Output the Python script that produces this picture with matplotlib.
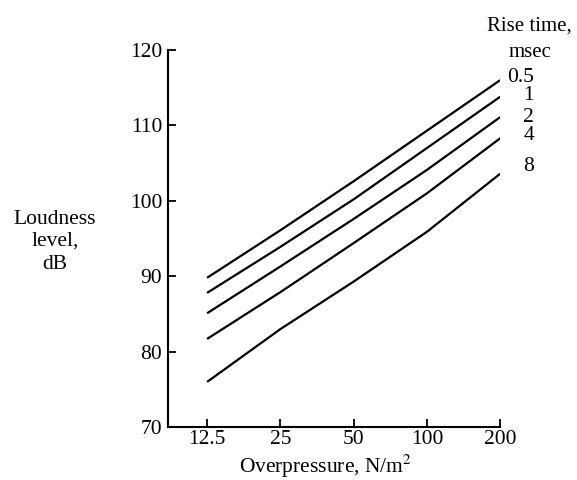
import matplotlib
matplotlib.use("Agg")
import matplotlib.pyplot as plt

plt.rcParams["font.family"] = ["Liberation Serif", "DejaVu Serif"]
plt.rcParams["mathtext.fontset"] = "stix"

pressure = [12.5, 25, 50, 100, 200]
rise_times = ["0.5", "1", "2", "4", "8"]
loudness = {
    "0.5": [89.8, 96.1, 102.6, 109.3, 116.0],
    "1": [87.8, 93.9, 100.2, 107.0, 113.8],
    "2": [85.1, 91.3, 97.6, 104.1, 111.1],
    "4": [81.7, 87.9, 94.4, 101.0, 108.3],
    "8": [76.0, 83.0, 89.3, 95.9, 103.6],
}
label_y = {"0.5": 116.3, "1": 113.9, "2": 111.0, "4": 108.6, "8": 104.6}

fig = plt.figure(figsize=(5.77, 4.8), dpi=100)
ax = fig.add_axes([0.291, 0.110, 0.576, 0.786])

for rt in rise_times:
    ax.plot(pressure, loudness[rt], color="black", lw=1.6, solid_capstyle="butt")
    if rt == "0.5":
        ax.text(pressure[-1] * 1.07, label_y[rt], rt, fontsize=15.5,
                ha="left", va="center")
    else:
        ax.text(pressure[-1] * 1.31, label_y[rt], rt, fontsize=15.5,
                ha="center", va="center")

ax.set_xscale("log", base=2)
ax.set_xlim(8.63, 200)
ax.set_ylim(70, 120)
ax.set_xticks(pressure)
ax.set_xticklabels(["12.5", "25", "50", "100", "200"])
ax.minorticks_off()
ax.set_yticks([70, 80, 90, 100, 110, 120])
ax.tick_params(direction="in", length=6, width=1.3, labelsize=15.5)
ax.tick_params(axis="x", pad=2)
ax.tick_params(axis="y", pad=4)
for s in ["top", "right"]:
    ax.spines[s].set_visible(False)
for s in ["left", "bottom"]:
    ax.spines[s].set_linewidth(1.5)

fig.text(0.565, 1 - 473 / 480, "Overpressure, N/m$^2$", fontsize=15.5,
         ha="center", va="baseline")
for txt, yb in [("Loudness", 224), ("level,", 246), ("dB", 269)]:
    fig.text(0.095, 1 - yb / 480, txt, fontsize=15.5, ha="center",
             va="baseline")
for txt, yb in [("Rise time,", 31), ("msec", 57)]:
    fig.text(0.918, 1 - yb / 480, txt, fontsize=15, ha="center",
             va="baseline")

fig.savefig("out.png", dpi=100, facecolor="white")
